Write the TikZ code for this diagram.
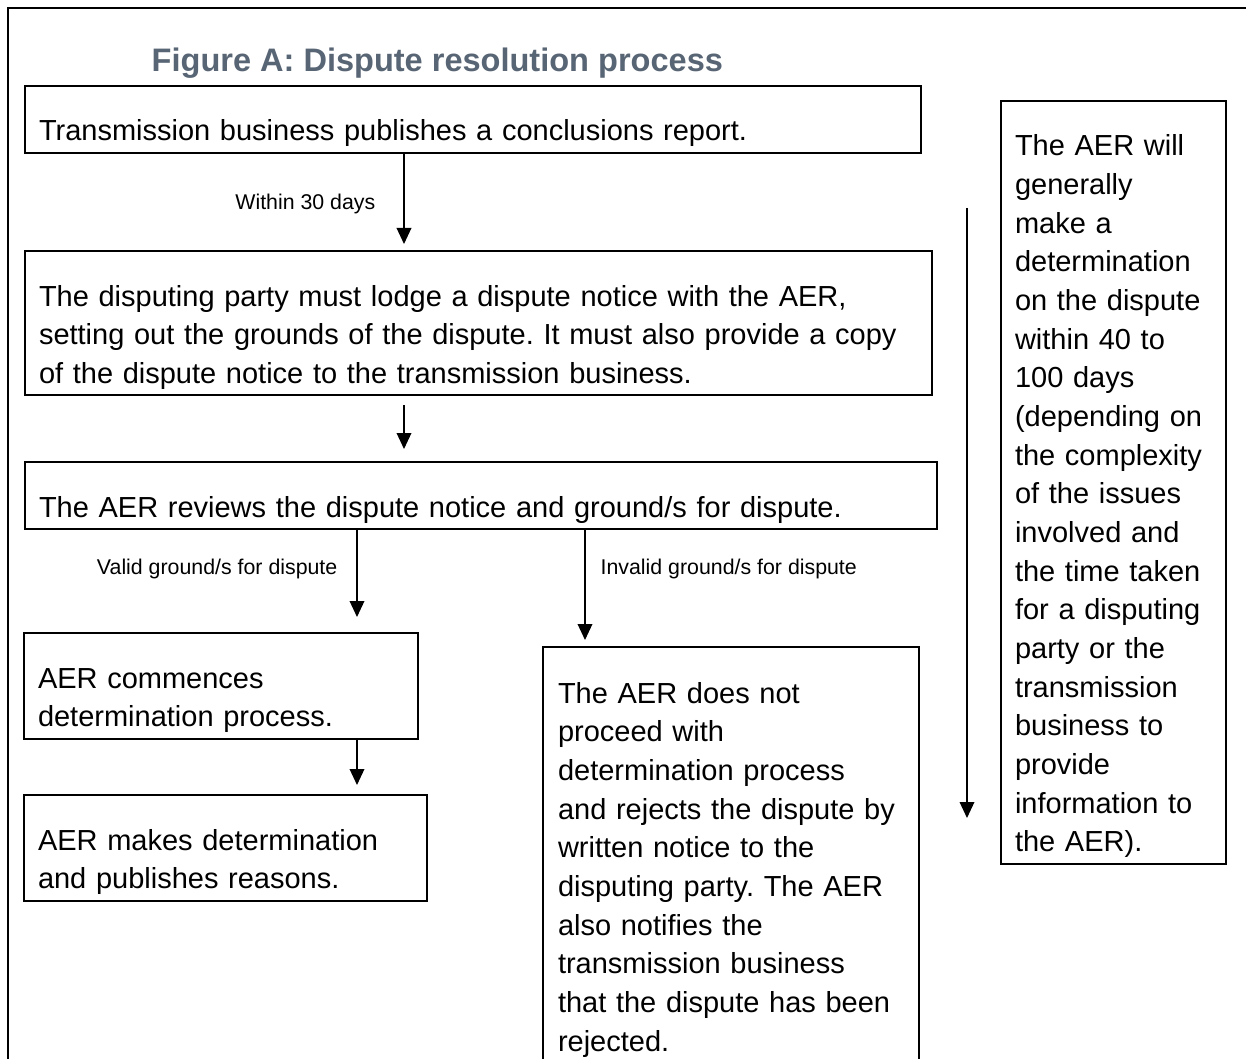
\documentclass[tikz,border=0pt]{standalone}
\usepackage{fontspec}
\setmainfont{Liberation Sans}
\usetikzlibrary{arrows.meta,positioning,calc}
\definecolor{titlegrey}{RGB}{88,101,116}
\newcommand{\boxtop}{\rule{0pt}{41.25pt}}
\newcommand{\boxbot}{\rule[-9pt]{0pt}{9pt}}
\frenchspacing

\begin{document}
\begin{tikzpicture}[x=0.75pt,y=-0.75pt,>={Triangle[length=12pt,width=11pt]},font=\fontsize{21.75}{29}\selectfont]
\tikzstyle{bx}=[draw,line width=1.5pt,anchor=north west,align=left,inner xsep=10.5pt,inner ysep=0pt]
\tikzstyle{arr}=[->,line width=1pt]
\tikzstyle{lbl}=[font=\fontsize{16}{19}\selectfont,inner sep=0pt]
\useasboundingbox (0,0) rectangle (1246,1059);
\coordinate (pagebot) at (0,1059);
% outer frame, runs off the page right and below
\draw[line width=1.5pt] (8,1059) -- (8,8) -- (1246,8);
\node[font=\fontsize{24.4}{29}\selectfont\bfseries,text=titlegrey,anchor=base west] (title) at (147,72) {Figure A: Dispute resolution process};
% main column
\node[bx,text width=651pt] (pub) at (24,85) {\boxtop Transmission business publishes a conclusions report.\boxbot};
\node[bx,text width=659.25pt] (notice) at (24,250) {\boxtop The disputing party must lodge a dispute notice with the AER,\\ setting out the grounds of the dispute. It must also provide a copy\\ of the dispute notice to the transmission business.\boxbot};
\node[bx,text width=663pt] (review) at (24,461) {\boxtop The AER reviews the dispute notice and ground/s for dispute.\boxbot};
\node[bx,text width=274.5pt] (commence) at (23,632) {\boxtop AER commences\\ determination process.\boxbot};
\node[bx,text width=281.25pt] (decide) at (23,794) {\boxtop AER makes determination\\ and publishes reasons.\boxbot};
\node[bx,draw=none,text width=259.5pt] (reject) at (543,647) {\boxtop The AER does not\\ proceed with\\ determination process\\ and rejects the dispute by\\ written notice to the\\ disputing party. The AER\\ also notifies the\\ transmission business\\ that the dispute has been\\ rejected.};
\draw[line width=1.5pt] (reject.north west |- pagebot) -- (reject.north west) -- (reject.north east) -- (reject.north east |- pagebot);
% time frame on the right
\node[bx,text width=147.75pt] (timing) at (1000,100) {\boxtop The AER will\\ generally\\ make a\\ determination\\ on the dispute\\ within 40 to\\ 100 days\\ (depending on\\ the complexity\\ of the issues\\ involved and\\ the time taken\\ for a disputing\\ party or the\\ transmission\\ business to\\ provide\\ information to\\ the AER).\boxbot};
\coordinate (tstart) at ($(timing.north west)+(-33,108)$);
\coordinate (tend) at ($(timing.north west)+(-33,718)$);
% arrows
\draw[arr,shorten >=4.5pt] ($(pub.south west)+(380,0)$) -- node[lbl,pos=0.52,left=21pt] (within) {Within 30 days} ($(notice.north west)+(380,0)$);
\draw[arr,shorten >=9pt] ($(notice.south west)+(380,9)$) -- ($(review.north west)+(380,0)$);
\draw[arr,shorten >=11.25pt] ($(review.south west)+(333,0)$) -- node[lbl,pos=0.385,left=14.25pt] (valid) {Valid ground/s for dispute} ($(commence.north west)+(334,0)$);
\draw[arr,shorten >=5.25pt] ($(review.south west)+(561,0)$) -- node[lbl,pos=0.336,right=11.25pt] (invalid) {Invalid ground/s for dispute} ($(reject.north west)+(42,0)$);
\draw[arr,shorten >=6.75pt] ($(commence.south west)+(334,0)$) -- ($(decide.north west)+(334,0)$);
\draw[arr] (tstart) -- (tend);
\end{tikzpicture}
\end{document}
